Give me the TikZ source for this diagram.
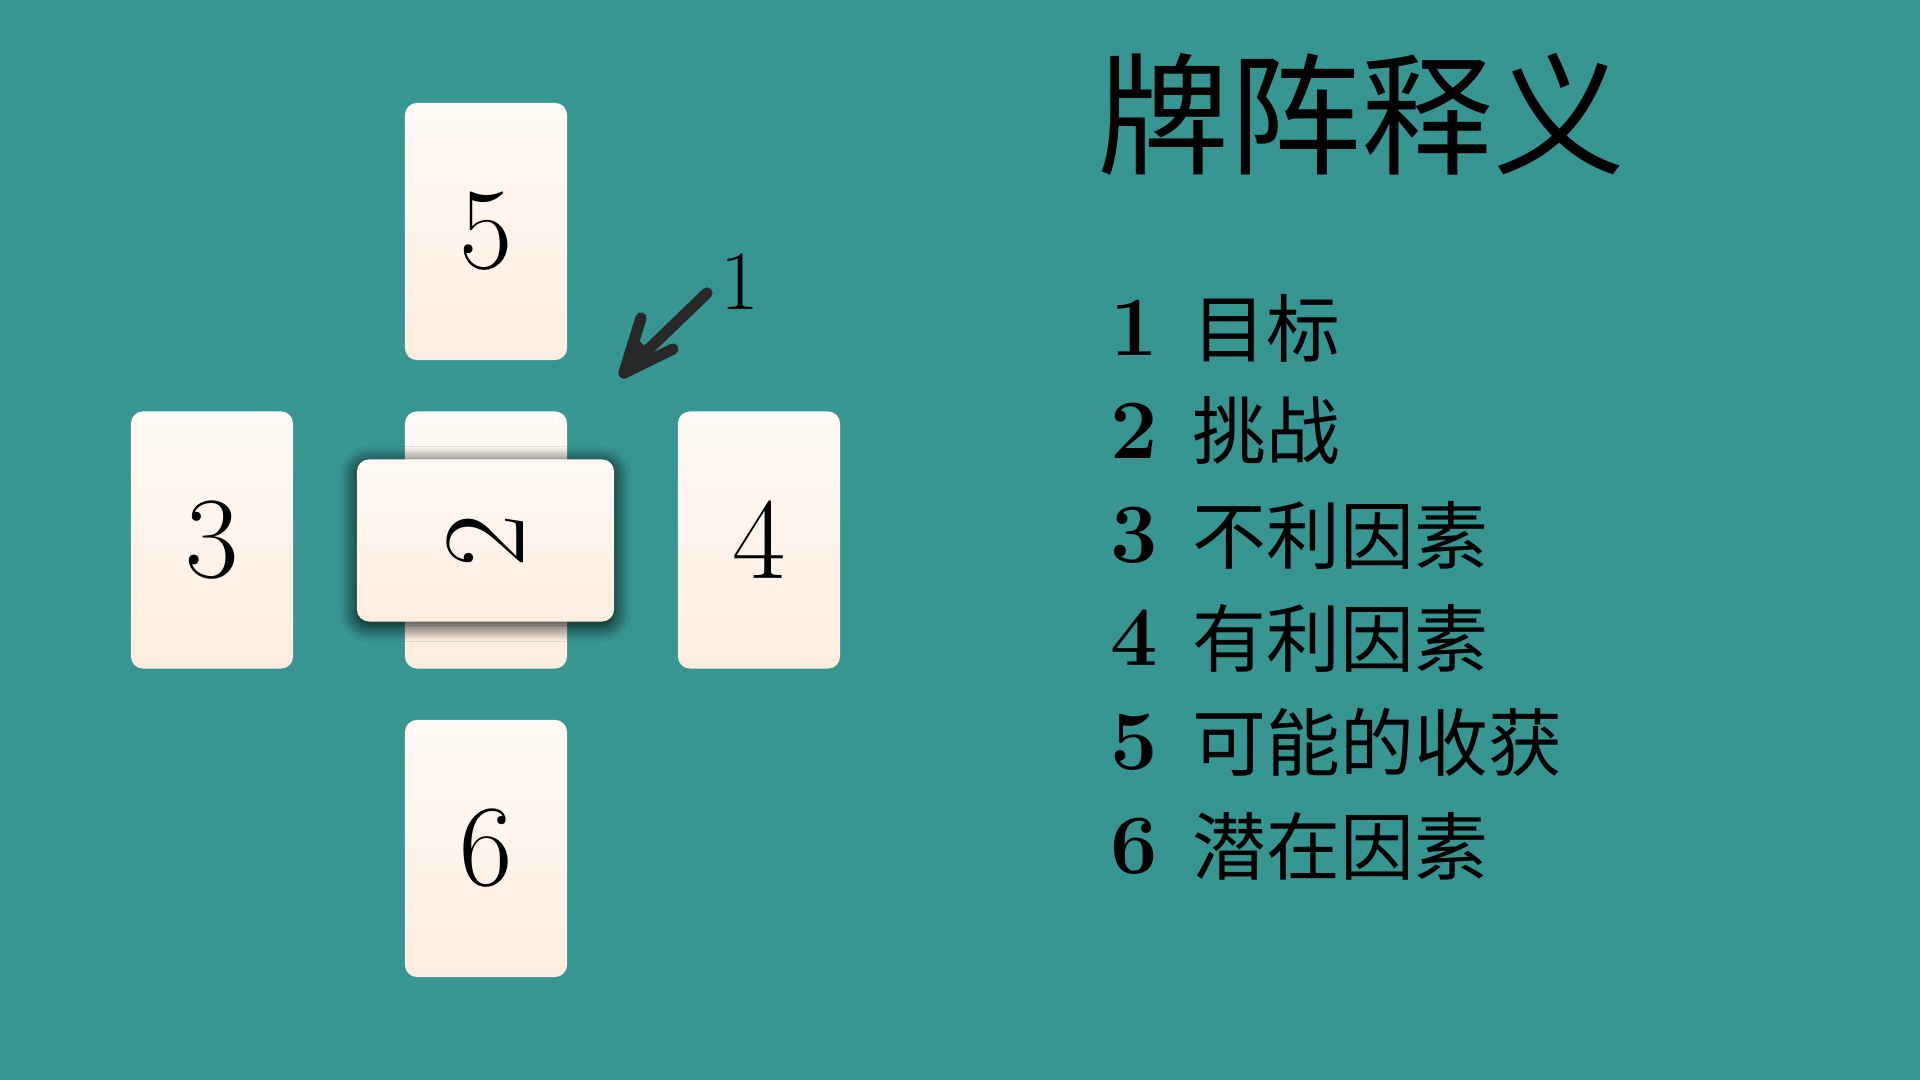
\documentclass[tikz,border=0pt]{standalone}
\usepackage{fontspec}
\newfontfamily\cjk{Noto Sans CJK SC}
\usetikzlibrary{shadows.blur}
\definecolor{bg}{RGB}{55,149,146}
\definecolor{cardtop}{RGB}{255,250,245}
\definecolor{cardbot}{RGB}{253,237,224}
\definecolor{inkc}{RGB}{40,40,40}
\tikzset{
  card/.style={rounded corners=0.12cm, minimum width=1.62cm, minimum height=2.57cm,
    inner sep=0pt, top color=cardtop, bottom color=cardbot,
    font=\fontsize{33}{33}\selectfont},
  cardshadow/.style={blur shadow={shadow xshift=0pt, shadow yshift=-1pt,
    shadow blur radius=0.16cm, shadow opacity=95, shadow blur steps=14}},
  arrowline/.style={draw=inkc, line width=3.2pt, line cap=round, line join=round},
  title/.style={anchor=west, inner sep=0pt, font=\cjk\fontsize{37.5}{40}\selectfont},
  numlbl/.style={inner sep=0pt, font=\bfseries\fontsize{24}{24}\selectfont},
  item/.style={anchor=west, inner sep=0pt, font=\cjk\fontsize{21}{24}\selectfont},
  marklbl/.style={inner sep=0pt, font=\fontsize{24}{26}\selectfont}
}
\begin{document}
\begin{tikzpicture}[x=0.01cm, y=-0.01cm]
\useasboundingbox (0,0) rectangle (1920,1080);
\fill[bg] (0,0) rectangle (1920,1080);

% cards
\node[card] (c5) at (486,231.5) {5};
\node[card] (c3) at (212,540) {3};
\node[card] (c1) at (486,540) {};
\node[card] (c4) at (759,540) {4};
\node[card] (c6) at (486,848.5) {6};
\node[card, cardshadow, rotate=90] (c2) at (485.5,540.5) {2};

% arrow to card 1
\coordinate (aS) at (707,293);
\coordinate (aT) at (624,373);
\coordinate (aL) at (641,318);
\coordinate (aR) at (673,349);
\draw[arrowline] (aS) -- (aT);
\draw[arrowline] (aL) -- (aT) -- (aR);
\fill[inkc] (aT) -- (635,336) -- (655,357) -- cycle;
\node[marklbl] (l1) at (740,282) {1};

% title
\node[title] (t) at (1097,114) {牌阵释义};

% legend
\node[numlbl] (n1) at (1134,328) {1};
\node[item] (i1) at (1192,328) {目标};
\node[numlbl] (n2) at (1134,431) {2};
\node[item] (i2) at (1192,431) {挑战};
\node[numlbl] (n3) at (1134,535) {3};
\node[item] (i3) at (1192,535) {不利因素};
\node[numlbl] (n4) at (1134,638) {4};
\node[item] (i4) at (1192,638) {有利因素};
\node[numlbl] (n5) at (1134,742) {5};
\node[item] (i5) at (1192,742) {可能的收获};
\node[numlbl] (n6) at (1134,846) {6};
\node[item] (i6) at (1192,846) {潜在因素};
\end{tikzpicture}
\end{document}
